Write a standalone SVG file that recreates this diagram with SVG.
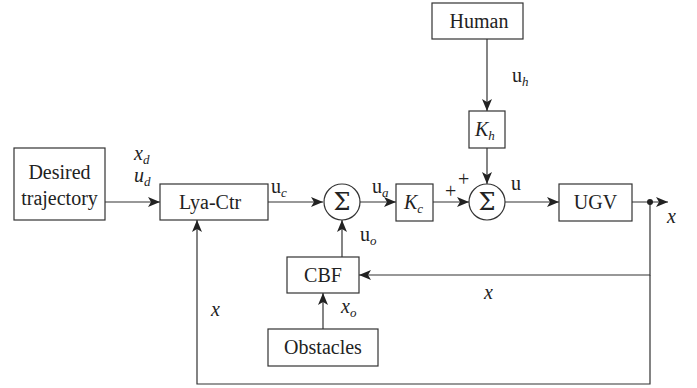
<svg xmlns="http://www.w3.org/2000/svg" width="697" height="388" viewBox="0 0 697 388">
<defs>
<marker id="ah" viewBox="0 0 12 10" refX="12" refY="5" markerWidth="12" markerHeight="10" markerUnits="userSpaceOnUse" orient="auto">
<path d="M0,0 L12,5 L0,10 L3,5 Z" fill="#222"/>
</marker>
</defs>
<style>
.box{fill:#fff;stroke:#333;stroke-width:1.2}
.ln{fill:none;stroke:#333;stroke-width:1.2}
.t{font-family:"Liberation Serif","DejaVu Serif",serif;font-size:20px;fill:#222}
.m{font-family:"Liberation Serif","DejaVu Serif",serif;font-size:20px;font-style:italic;fill:#222}
.sg{font-family:"DejaVu Serif","Liberation Serif",serif;font-size:24px;fill:#222}
.s{font-size:13px}
</style>
<rect width="697" height="388" fill="#fff"/>
<g id="connectors">
<path class="ln" d="M105,202 H160" marker-end="url(#ah)"/>
<path class="ln" d="M268,202 H323" marker-end="url(#ah)"/>
<path class="ln" d="M360,202 H396" marker-end="url(#ah)"/>
<path class="ln" d="M433,202 H469" marker-end="url(#ah)"/>
<path class="ln" d="M505,202 H559" marker-end="url(#ah)"/>
<path class="ln" d="M632,202 H668" marker-end="url(#ah)"/>
<path class="ln" d="M487,39 V111" marker-end="url(#ah)"/>
<path class="ln" d="M487,148 V184" marker-end="url(#ah)"/>
<path class="ln" d="M342,257 V220" marker-end="url(#ah)"/>
<path class="ln" d="M323,329 V293" marker-end="url(#ah)"/>
<path class="ln" d="M650,202 V275 H359" marker-end="url(#ah)"/>
<path class="ln" d="M650,275 V384 H197 V220" marker-end="url(#ah)"/>
<circle cx="650" cy="202" r="3" fill="#222"/>
</g>
<g id="desired"><rect class="box" x="14" y="148" width="91" height="72"/>
<text class="t" x="59.5" y="179" text-anchor="middle">Desired</text>
<text class="t" x="59.5" y="205" text-anchor="middle">trajectory</text></g>
<g id="lya"><rect class="box" x="160" y="184" width="108" height="36"/>
<text class="t" x="210" y="209" text-anchor="middle">Lya-Ctr</text></g>
<g id="sum1"><circle class="box" cx="342" cy="202" r="18"/>
<text class="sg" x="342" y="210" text-anchor="middle">Σ</text></g>
<g id="kc"><rect class="box" x="396" y="184" width="37" height="37"/>
<text class="m" x="404" y="209">K<tspan class="s" dy="4">c</tspan></text></g>
<g id="sum2"><circle class="box" cx="487" cy="202" r="18"/>
<text class="sg" x="487" y="210" text-anchor="middle">Σ</text></g>
<g id="human"><rect class="box" x="432" y="3" width="91" height="36"/>
<text class="t" x="479" y="28" text-anchor="middle">Human</text></g>
<g id="kh"><rect class="box" x="469" y="111" width="36" height="37"/>
<text class="m" x="475" y="136">K<tspan class="s" dy="4">h</tspan></text></g>
<g id="ugv"><rect class="box" x="559" y="184" width="73" height="37"/>
<text class="t" x="595.5" y="209" text-anchor="middle">UGV</text></g>
<g id="cbf"><rect class="box" x="287" y="257" width="72" height="36"/>
<text class="t" x="323" y="282" text-anchor="middle">CBF</text></g>
<g id="obstacles"><rect class="box" x="268" y="329" width="110" height="37"/>
<text class="t" x="323" y="354" text-anchor="middle">Obstacles</text></g>
<g id="labels">
<text class="m" x="134" y="160">x<tspan class="s" dy="4">d</tspan></text>
<text class="m" x="134" y="182">u<tspan class="s" dy="4">d</tspan></text>
<text class="t" x="271" y="193">u<tspan class="s m" dy="4">c</tspan></text>
<text class="t" x="372" y="193">u<tspan class="s m" dy="4">a</tspan></text>
<text class="t" x="360" y="241">u<tspan class="s m" dy="4">o</tspan></text>
<text class="t" x="512" y="82">u<tspan class="s m" dy="4">h</tspan></text>
<text class="t" x="445" y="198">+</text>
<text class="t" x="458" y="186">+</text>
<text class="t" x="511" y="190">u</text>
<text class="m" x="667" y="223">x</text>
<text class="m" x="484" y="299">x</text>
<text class="m" x="341" y="313">x<tspan class="s" dy="4">o</tspan></text>
<text class="m" x="211" y="316">x</text>
</g>
</svg>
